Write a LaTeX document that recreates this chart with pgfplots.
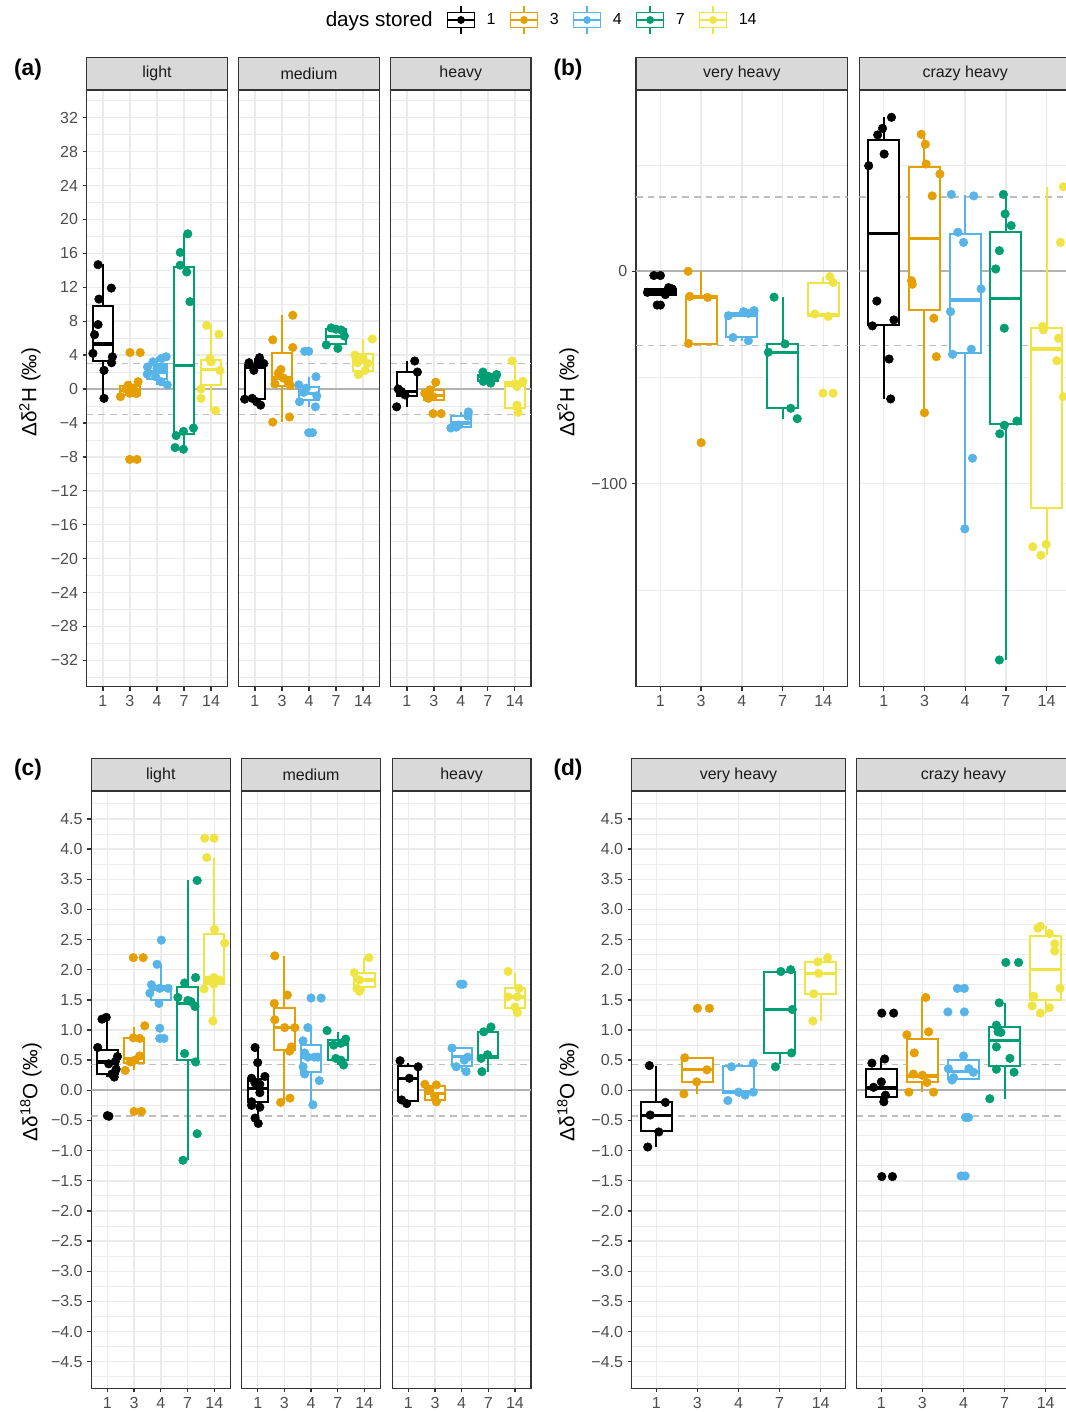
\documentclass[border=0pt]{standalone}
\usepackage{fontspec}
\setmainfont{Liberation Sans}
\usepackage{pgfplots}
\pgfplotsset{compat=1.18}
\usepgfplotslibrary{statistics}
\definecolor{orng}{HTML}{E69F00}
\definecolor{sky}{HTML}{56B4E9}
\definecolor{grn}{HTML}{009E73}
\definecolor{yel}{HTML}{F0E442}
\definecolor{gridc}{HTML}{EBEBEB}
\definecolor{axc}{HTML}{333333}
\definecolor{tickc}{HTML}{4D4D4D}
\definecolor{stripc}{HTML}{D9D9D9}
\definecolor{striptx}{HTML}{1A1A1A}
\definecolor{refc}{HTML}{B3B3B3}
\definecolor{refd}{HTML}{BEBEBE}
\newcommand{\ticksize}{\fontsize{12}{14}\selectfont}
\newcommand{\titlesize}{\fontsize{15.5}{18}\selectfont}
\newcommand{\bx}[7]{\addplot[draw=#1, line width=1.5pt, fill=white, boxplot prepared={draw direction=y, draw position=#2, lower whisker=#3, lower quartile=#4, median=#5, upper quartile=#6, upper whisker=#7}] coordinates {};}
\newcommand{\pts}[2]{\addplot[only marks, mark=*, mark size=3.2pt, color=#1] coordinates {#2};}
\newcommand{\refl}[1]{%
\addplot[refc, line width=1.3pt] coordinates {(0.4,0) (5.6,0)};
\addplot[refd, line width=1.3pt, dash pattern=on 5pt off 3.7pt] coordinates {(0.4,#1) (5.6,#1)};
\addplot[refd, line width=1.3pt, dash pattern=on 5pt off 3.7pt] coordinates {(0.4,-#1) (5.6,-#1)};}
\newcommand{\strip}[2]{\draw[fill=stripc, draw=axc, line width=1pt] (#1.north west) rectangle ([yshift=24.2pt]#1.north east);
\node[font=\ticksize, text=striptx] at ([yshift=12.1pt]#1.north) {#2};}
\newcommand{\leg}[2]{\addlegendimage{legend image code/.code={%
\draw[draw=#1, line width=1pt] (10pt,-10.5pt) -- (10pt,10.5pt);
\draw[draw=#1, fill=white, line width=1pt] (0pt,-5.5pt) rectangle (20pt,5.5pt);
\draw[draw=#1, line width=1pt] (0pt,0pt) -- (20pt,0pt);
\fill[#1] (10pt,0pt) circle (2.7pt);}}\addlegendentry{#2}}
\pgfplotsset{
 facet/.style={scale only axis, anchor=north west, clip=true,
   xmin=0.4, xmax=5.6, xtick={1,2,3,4,5}, xticklabels={1,3,4,7,14},
   xmajorgrids=true, ymajorgrids=true, yminorgrids=true,
   major grid style={draw=gridc, line width=1.1pt},
   minor grid style={draw=gridc, line width=0.55pt},
   axis line style={draw=axc, line width=1pt},
   tick align=outside, tick pos=left,
   major tick length=3pt, minor tick length=0pt,
   tick style={draw=axc, line width=1pt},
   tick label style={font=\ticksize, text=tickc},
   boxplot/draw direction=y,
   boxplot/box extend=0.76, boxplot/whisker extend=0,
   boxplot/every box/.style={line width=1.5pt},
   boxplot/every whisker/.style={line width=1.5pt},
   boxplot/every median/.style={line width=2.5pt}},
 yinner/.style={yticklabels={}, ytick style={draw=none}},
 fa/.style={facet, height=447.5pt, ymin=-35.1, ymax=35.26,
   ytick={-32,-28,-24,-20,-16,-12,-8,-4,0,4,8,12,16,20,24,28,32},
   yticklabels={−32,−28,−24,−20,−16,−12,−8,−4,0,4,8,12,16,20,24,28,32},
   minor ytick={-34,-30,-26,-22,-18,-14,-10,-6,-2,2,6,10,14,18,22,26,30,34}},
 fb/.style={facet, height=447.5pt, width=158.8pt, ymin=-195.57, ymax=85.36,
   ytick={-100,0}, yticklabels={−100,0}, minor ytick={-150,-50,50}},
 fc/.style={facet, height=448pt, ymin=-4.942, ymax=4.963,
   ytick={-4.5,-4,-3.5,-3,-2.5,-2,-1.5,-1,-0.5,0,0.5,1,1.5,2,2.5,3,3.5,4,4.5},
   yticklabels={−4.5,−4.0,−3.5,−3.0,−2.5,−2.0,−1.5,−1.0,−0.5,0.0,0.5,1.0,1.5,2.0,2.5,3.0,3.5,4.0,4.5},
   minor ytick={-4.75,-4.25,-3.75,-3.25,-2.75,-2.25,-1.75,-1.25,-0.75,-0.25,0.25,0.75,1.25,1.75,2.25,2.75,3.25,3.75,4.25,4.75}},
}
\begin{document}
\begin{tikzpicture}
% ---------------- legend
\begin{axis}[hide axis, scale only axis, width=2pt, height=2pt, xmin=0, xmax=1, ymin=0, ymax=1,
  at={(402.5pt,-15pt)}, anchor=center,
  legend columns=-1, legend cell align=left,
  legend style={draw=none, fill=none, at={(0.5,0.5)}, anchor=center, font=\ticksize, text=black,
   /tikz/every odd column/.append style={column sep=6.8pt},
   /tikz/every even column/.append style={column sep=8.8pt}}]
\addlegendimage{empty legend}\addlegendentry{\titlesize days stored}
\leg{black}{1}
\leg{orng}{3}
\leg{sky}{4}
\leg{grn}{7}
\leg{yel}{14}
\end{axis}
% ---------------- (a) light
\begin{axis}[fa, width=105.4pt, at={(65.03pt,-67.5pt)}, name=a1]
\refl{3}
\bx{black}{1}{-1.1}{3.3}{5.3}{9.8}{14.7}
\pts{black}{(0.82,14.66)(1.31,11.9)(0.85,10.6)(0.82,7.6)(0.69,6.4)(0.63,4.2)(1.35,3.8)(1.32,3.1)(1.04,2.2)(1.04,-1.1)}
\bx{orng}{2}{-1.0}{-0.75}{-0.1}{0.35}{0.9}
\pts{orng}{(2.0,4.3)(2.38,4.3)(2.3,0.86)(1.93,0.45)(1.85,0.0)(2.12,0.1)(1.99,-0.5)(2.24,-0.55)(1.65,-0.9)(1.99,-8.3)(2.26,-8.3)}
\bx{sky}{3}{0.5}{1.2}{2.0}{3.0}{3.8}
\pts{sky}{(3.34,3.8)(3.16,3.6)(2.85,3.2)(2.65,2.6)(3.24,2.6)(3.0,2.4)(2.64,1.75)(2.95,1.45)(3.15,0.86)(3.38,0.5)}
\bx{grn}{4}{-7.1}{-5.3}{2.8}{14.4}{18.3}
\pts{grn}{(4.14,18.3)(3.86,16.1)(3.86,14.6)(4.1,13.8)(4.22,10.3)(4.35,-4.6)(3.98,-5.0)(3.71,-5.5)(3.67,-6.9)(3.98,-7.1)}
\bx{yel}{5}{-2.6}{0.5}{2.3}{3.4}{7.5}
\pts{yel}{(4.84,7.5)(5.29,6.45)(4.96,3.6)(5.0,3.2)(5.33,2.2)(4.63,0.0)(4.63,-1.1)(5.17,-2.55)}
\end{axis}
\strip{a1}{light}
% ---------------- (a) medium
\begin{axis}[fa, yinner, width=105.4pt, at={(179.03pt,-67.5pt)}, name=a2]
\refl{3}
\bx{black}{1}{-1.9}{-1.2}{2.5}{2.8}{3.7}
\pts{black}{(0.78,3.1)(1.17,3.7)(1.33,3.0)(1.1,2.9)(0.96,2.2)(0.62,-1.2)(0.9,-1.1)(1.06,-1.5)(1.21,-1.9)}
\bx{orng}{2}{-3.9}{0.3}{1.3}{4.2}{8.7}
\pts{orng}{(2.4,8.7)(1.66,5.8)(2.4,4.9)(1.96,2.3)(1.86,1.85)(2.05,1.3)(2.23,0.8)(1.74,0.6)(2.31,0.4)(2.28,-3.3)(1.66,-3.9)}
\bx{sky}{3}{-2.1}{-1.3}{-0.5}{0.27}{1.45}
\pts{sky}{(2.84,4.45)(2.99,4.45)(3.26,1.45)(2.62,0.5)(2.9,0.1)(2.8,-0.4)(3.29,-0.8)(2.65,-1.5)(3.24,-2.1)(2.99,-5.15)(3.13,-5.15)}
\bx{grn}{4}{4.8}{5.3}{6.2}{7.1}{7.2}
\pts{grn}{(3.82,7.2)(4.19,6.96)(4.0,7.05)(4.31,6.25)(3.64,5.2)(4.07,4.8)}
\bx{yel}{5}{1.7}{2.15}{3.1}{4.1}{5.9}
\pts{yel}{(5.34,5.9)(4.7,4.0)(5.0,3.6)(4.8,3.1)(5.17,3.0)(5.08,2.2)(4.83,1.7)}
\end{axis}
\strip{a2}{medium}
% ---------------- (a) heavy
\begin{axis}[fa, yinner, width=105.2pt, at={(293.03pt,-67.5pt)}, name=a3]
\refl{3}
\bx{black}{1}{-2.1}{-0.8}{-0.3}{2.05}{3.3}
\pts{black}{(1.29,3.3)(1.39,2.0)(0.68,0.0)(0.8,-0.3)(0.93,-0.7)(0.62,-2.1)}
\bx{orng}{2}{-1.35}{-1.35}{-0.75}{-0.1}{0.8}
\pts{orng}{(2.07,0.8)(1.85,-0.1)(1.66,-0.5)(1.97,-0.9)(1.8,-1.1)(1.97,-2.9)(2.27,-2.9)}
\bx{sky}{3}{-4.6}{-4.45}{-4.0}{-3.15}{-2.7}
\pts{sky}{(3.28,-2.7)(3.26,-3.2)(2.91,-4.25)(2.63,-4.6)(2.83,-4.5)}
\bx{grn}{4}{0.7}{0.95}{1.45}{1.65}{2.0}
\pts{grn}{(3.82,2.0)(4.33,1.7)(4.3,1.55)(4.05,1.45)(3.9,1.2)(3.83,0.9)(4.11,0.7)}
\bx{yel}{5}{-2.75}{-2.2}{0.47}{0.86}{3.3}
\pts{yel}{(4.9,3.3)(5.3,0.9)(5.02,0.6)(5.08,0.3)(5.08,-1.9)(5.1,-2.3)(5.12,-2.75)}
\end{axis}
\strip{a3}{heavy}
% ---------------- (b) very heavy
\begin{axis}[fb, at={(477pt,-67.5pt)}, name=b1]
\refl{35}
\bx{black}{1}{-11.5}{-11.0}{-9.8}{-8.5}{-7.7}
\pts{black}{(0.84,-2.0)(1.0,-2.0)(0.68,-9.9)(1.2,-7.7)(1.29,-8.3)(1.12,-11)(0.92,-15.9)(1.0,-15.9)}
\bx{orng}{2}{-34.2}{-34.2}{-12.3}{-11.8}{0}
\pts{orng}{(1.68,0)(1.72,-11.8)(2.16,-12.3)(1.69,-34)(2.0,-80.7)}
\bx{sky}{3}{-32.7}{-31.1}{-20.8}{-19.8}{-18.5}
\pts{sky}{(2.67,-20.9)(3.04,-19.0)(3.3,-18.5)(3.16,-19.8)(2.78,-31.2)(3.16,-32.7)}
\bx{grn}{4}{-69.4}{-64.4}{-38.1}{-34.2}{-12.2}
\pts{grn}{(3.79,-12.2)(4.06,-34.2)(3.65,-38.1)(4.2,-64.5)(4.36,-69.4)}
\bx{yel}{5}{-21.3}{-21.1}{-20.3}{-5.3}{-2.5}
\pts{yel}{(5.16,-2.5)(5.24,-5.3)(4.79,-20.1)(5.12,-21.3)(4.99,-57.4)(5.24,-57.4)}
\end{axis}
\strip{b1}{very heavy}
% ---------------- (b) crazy heavy
\begin{axis}[fb, yinner, at={(644.48pt,-67.5pt)}, name=b2]
\refl{35}
\bx{black}{1}{-60.1}{-25.3}{17.9}{61.8}{72.5}
\pts{black}{(1.19,72.5)(0.97,67.3)(0.85,64.2)(1.01,55.2)(0.63,49.7)(0.83,-14.0)(1.25,-22.9)(0.72,-25.7)(1.13,-41.3)(1.17,-60.1)}
\bx{orng}{2}{-66.6}{-18.2}{15.5}{49.3}{64.5}
\pts{orng}{(1.92,64.5)(2.02,59.8)(2.04,50.5)(2.38,45.8)(2.19,35.5)(1.68,-4.4)(1.7,-6.1)(2.23,-22.1)(2.29,-40.2)(2.0,-66.6)}
\bx{sky}{3}{-121.3}{-38.6}{-13.5}{17.4}{35.8}
\pts{sky}{(2.66,36.2)(3.21,35.5)(2.82,18.4)(2.96,13.6)(3.39,-8.3)(2.64,-19.0)(3.15,-36.7)(2.69,-39.1)(3.18,-88.0)(2.99,-121.3)}
\bx{grn}{4}{-183}{-71.9}{-12.7}{18.7}{36.2}
\pts{grn}{(3.94,36.2)(3.98,27.0)(4.13,21.5)(3.84,9.7)(3.75,1.1)(3.96,-26.8)(3.85,-76.5)(3.96,-72.5)(4.27,-70.5)(3.84,-183)}
\bx{yel}{5}{-133.7}{-111.3}{-36.6}{-26.8}{39.8}
\pts{yel}{(5.41,39.8)(5.34,13.6)(4.92,-27.6)(4.9,-26.0)(5.29,-31.5)(5.25,-42.1)(5.41,-59.0)(4.66,-129.7)(4.86,-133.7)(4.99,-128.5)}
\end{axis}
\strip{b2}{crazy heavy}
% ---------------- (c) light
\begin{axis}[fc, width=104.25pt, at={(68.48pt,-593.25pt)}, name=c1]
\refl{0.43}
\bx{black}{1}{0.22}{0.27}{0.47}{0.67}{1.21}
\pts{black}{(0.8,1.18)(0.96,1.21)(0.64,0.71)(1.38,0.56)(1.3,0.48)(1.05,0.44)(1.33,0.35)(1.17,0.27)(1.26,0.22)(1.0,-0.42)(1.06,-0.43)}
\bx{orng}{2}{0.33}{0.46}{0.53}{0.86}{1.05}
\pts{orng}{(1.97,2.2)(2.34,2.2)(2.4,1.07)(2.21,0.86)(1.97,0.87)(2.21,0.57)(2.03,0.5)(1.86,0.47)(1.67,0.33)(2.0,-0.35)(2.28,-0.35)}
\bx{sky}{3}{1.44}{1.5}{1.67}{1.73}{2.09}
\pts{sky}{(3.02,2.49)(2.86,2.09)(2.65,1.75)(2.96,1.69)(3.27,1.69)(2.59,1.61)(2.93,1.44)(2.96,1.03)(2.96,0.86)(3.12,0.86)}
\bx{grn}{4}{-1.16}{0.5}{1.44}{1.72}{3.48}
\pts{grn}{(3.89,1.78)(4.3,1.87)(3.64,1.54)(4.01,1.49)(4.13,1.47)(4.28,1.39)(3.89,0.61)(4.3,0.47)(4.36,3.48)(4.36,-0.72)(3.83,-1.16)}
\bx{yel}{5}{1.15}{1.77}{1.84}{2.6}{3.86}
\pts{yel}{(4.64,4.18)(4.99,4.18)(4.72,3.86)(5.01,2.67)(5.39,2.44)(4.99,1.87)(4.77,1.83)(5.2,1.83)(4.62,1.68)(4.98,1.76)(4.95,1.15)}
\end{axis}
\strip{c1}{light}
% ---------------- (c) medium
\begin{axis}[fc, yinner, width=104pt, at={(181.28pt,-593.25pt)}, name=c2]
\refl{0.43}
\bx{black}{1}{-0.55}{-0.19}{0.03}{0.18}{0.71}
\pts{black}{(0.9,0.71)(1.0,0.46)(1.27,0.23)(0.77,0.2)(0.9,0.12)(1.08,0.1)(1.08,-0.04)(0.77,-0.19)(1.08,-0.28)(0.77,-0.25)(0.9,-0.46)(1.02,-0.55)}
\bx{orng}{2}{-0.2}{0.67}{1.04}{1.36}{2.23}
\pts{orng}{(1.64,2.23)(2.11,1.58)(1.62,1.44)(1.64,1.17)(2.01,1.04)(2.39,1.04)(2.26,0.72)(2.2,0.65)(1.86,-0.2)(2.21,-0.13)}
\bx{sky}{3}{-0.24}{0.3}{0.55}{0.75}{1.04}
\pts{sky}{(2.88,1.04)(3.0,1.53)(3.38,1.53)(2.7,0.82)(2.76,0.62)(2.88,0.55)(3.13,0.55)(3.25,0.55)(2.7,0.39)(2.76,0.27)(3.31,0.16)(3.07,-0.24)}
\bx{grn}{4}{0.42}{0.51}{0.77}{0.83}{0.96}
\pts{grn}{(3.6,0.99)(4.3,0.85)(3.85,0.75)(4.12,0.78)(3.93,0.53)(4.12,0.5)(4.22,0.42)}
\bx{yel}{5}{1.64}{1.72}{1.83}{1.95}{2.2}
\pts{yel}{(5.17,2.2)(4.62,1.95)(4.81,1.83)(4.72,1.69)(4.81,1.64)}
\end{axis}
\strip{c2}{medium}
% ---------------- (c) heavy
\begin{axis}[fc, yinner, width=104pt, at={(294.23pt,-593.25pt)}, name=c3]
\refl{0.43}
\bx{black}{1}{-0.22}{-0.18}{0.2}{0.4}{0.46}
\pts{black}{(0.69,0.49)(1.37,0.39)(1.04,0.2)(0.75,-0.16)(0.94,-0.22)}
\bx{orng}{2}{-0.19}{-0.16}{-0.05}{0.07}{0.1}
\pts{orng}{(1.62,0.1)(2.05,0.09)(1.8,0.0)(1.99,-0.1)(2.05,-0.19)}
\bx{sky}{3}{0.31}{0.4}{0.56}{0.7}{0.7}
\pts{sky}{(2.96,1.76)(3.05,1.76)(2.64,0.7)(3.23,0.55)(3.1,0.5)(2.8,0.39)(3.17,0.31)}
\bx{grn}{4}{0.31}{0.53}{0.56}{0.97}{1.05}
\pts{grn}{(4.1,1.05)(3.83,0.97)(3.97,0.59)(3.73,0.53)(3.76,0.31)}
\bx{yel}{5}{1.29}{1.36}{1.55}{1.69}{1.95}
\pts{yel}{(4.74,1.97)(5.15,1.69)(4.74,1.55)(5.09,1.55)(5.0,1.38)(5.09,1.29)}
\end{axis}
\strip{c3}{heavy}
% ---------------- (d) very heavy
\begin{axis}[fc, width=160.2pt, at={(473.78pt,-593.25pt)}, name=d1]
\refl{0.43}
\bx{black}{1}{-0.94}{-0.68}{-0.42}{-0.2}{0.41}
\pts{black}{(0.83,0.41)(1.22,-0.2)(0.85,-0.41)(1.06,-0.69)(0.79,-0.94)}
\bx{orng}{2}{-0.06}{0.14}{0.35}{0.54}{0.54}
\pts{orng}{(1.69,0.54)(2.23,0.34)(1.98,0.14)(1.67,-0.06)(2.0,1.36)(2.29,1.36)}
\bx{sky}{3}{-0.11}{-0.05}{-0.02}{0.4}{0.45}
\pts{sky}{(2.83,0.39)(3.36,0.45)(2.74,-0.17)(3.16,-0.08)(3.36,-0.03)(3.0,-0.03)}
\bx{grn}{4}{0.44}{0.62}{1.34}{1.97}{2.0}
\pts{grn}{(4.03,1.97)(4.27,2.0)(4.31,1.34)(4.29,0.62)(3.9,0.39)}
\bx{yel}{5}{1.15}{1.6}{1.94}{2.13}{2.2}
\pts{yel}{(4.93,2.13)(5.17,2.2)(4.95,1.94)(4.83,1.6)(4.81,1.15)}
\end{axis}
\strip{d1}{very heavy}
% ---------------- (d) crazy heavy
\begin{axis}[fc, yinner, width=160.2pt, at={(642.53pt,-593.25pt)}, name=d2]
\refl{0.43}
\bx{black}{1}{-0.19}{-0.11}{0.04}{0.35}{0.52}
\pts{black}{(1.01,1.28)(1.3,1.28)(0.77,0.45)(1.08,0.52)(1.0,0.14)(0.81,0.05)(1.1,-0.08)(1.06,-0.19)(1.01,-1.43)(1.27,-1.43)}
\bx{orng}{2}{-0.03}{0.14}{0.24}{0.85}{1.54}
\pts{orng}{(2.08,1.54)(1.62,0.92)(2.15,0.97)(1.8,0.62)(1.78,0.27)(2.0,0.25)(2.11,0.13)(1.67,-0.03)(2.27,-0.03)}
\bx{sky}{3}{0.17}{0.18}{0.31}{0.51}{0.57}
\pts{sky}{(2.85,1.69)(3.02,1.69)(2.62,1.3)(3.02,1.3)(3.0,0.57)(2.63,0.36)(3.13,0.36)(3.24,0.3)(2.72,0.17)(2.76,0.21)(3.05,-0.45)(3.12,-0.45)(2.94,-1.42)(3.04,-1.42)}
\bx{grn}{4}{-0.14}{0.4}{0.83}{1.05}{1.45}
\pts{grn}{(4.03,2.12)(4.34,2.12)(3.87,1.45)(3.8,1.08)(3.84,0.97)(3.91,0.96)(3.8,0.72)(4.13,0.53)(3.8,0.35)(4.23,0.3)(3.64,-0.14)}
\bx{yel}{5}{1.28}{1.5}{2.0}{2.56}{2.72}
\pts{yel}{(4.81,2.69)(4.87,2.72)(5.09,2.6)(5.22,2.43)(5.22,2.31)(5.35,1.69)(4.71,1.56)(4.67,1.4)(5.09,1.37)(4.87,1.28)}
\end{axis}
\strip{d2}{crazy heavy}
% ---------------- tags and axis titles
\node[font=\bfseries\fontsize{17}{19}\selectfont] at (21pt,-52.5pt) {(a)};
\node[font=\bfseries\fontsize{17}{19}\selectfont] at (426pt,-52.5pt) {(b)};
\node[font=\bfseries\fontsize{17}{19}\selectfont] at (21pt,-577.5pt) {(c)};
\node[font=\bfseries\fontsize{17}{19}\selectfont] at (426pt,-577.5pt) {(d)};
\node[rotate=90, font=\titlesize] at (22.5pt,-294pt) {Δδ\textsuperscript{2}H (‰)};
\node[rotate=90, font=\titlesize] at (426pt,-294pt) {Δδ\textsuperscript{2}H (‰)};
\node[rotate=90, font=\titlesize] at (23.25pt,-819pt) {Δδ\textsuperscript{18}O (‰)};
\node[rotate=90, font=\titlesize] at (426pt,-819pt) {Δδ\textsuperscript{18}O (‰)};
\pgfresetboundingbox
\useasboundingbox (0pt,0pt) rectangle (799.5pt,-1059pt);
\end{tikzpicture}
\end{document}
